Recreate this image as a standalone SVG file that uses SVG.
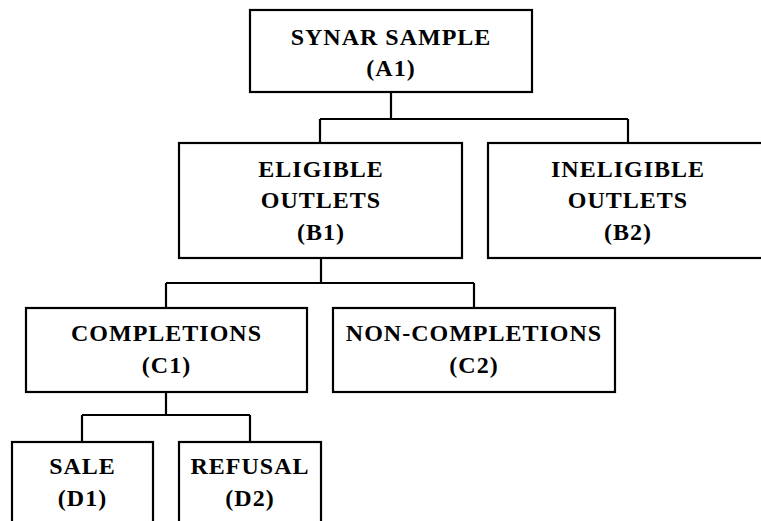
<svg xmlns="http://www.w3.org/2000/svg" width="761" height="521" viewBox="0 0 761 521">
<style>
  .box { fill: #fff; stroke: #000; stroke-width: 2.2; }
  .lbl { font-family: "Liberation Serif", "Times New Roman", serif; font-weight: bold; font-size: 24px; letter-spacing: 1px; fill: #000; text-anchor: middle; }
  .conn { fill: none; stroke: #000; stroke-width: 2.2; }
</style>
<rect x="0" y="0" width="761" height="521" fill="#fff"/>
<g id="connectors">
  <path class="conn" d="M391,92 V119 M320,119 H628 M320,119 V143 M628,119 V143"/>
  <path class="conn" d="M321,258 V283 M166,283 H474 M166,283 V308 M474,283 V308"/>
  <path class="conn" d="M166,392 V415 M82,415 H250 M82,415 V442 M250,415 V442"/>
</g>
<g id="A1">
  <rect class="box" x="250" y="10" width="282" height="82"/>
  <text class="lbl" x="391" y="45">SYNAR SAMPLE</text>
  <text class="lbl" x="391" y="76">(A1)</text>
</g>
<g id="B1">
  <rect class="box" x="179" y="143" width="283" height="115"/>
  <text class="lbl" x="321" y="177">ELIGIBLE</text>
  <text class="lbl" x="321" y="208">OUTLETS</text>
  <text class="lbl" x="321" y="240">(B1)</text>
</g>
<g id="B2">
  <rect class="box" x="488" y="143" width="278" height="115"/>
  <text class="lbl" x="628" y="177">INELIGIBLE</text>
  <text class="lbl" x="628" y="208">OUTLETS</text>
  <text class="lbl" x="628" y="240">(B2)</text>
</g>
<g id="C1">
  <rect class="box" x="26" y="308" width="281" height="84"/>
  <text class="lbl" x="166.5" y="341">COMPLETIONS</text>
  <text class="lbl" x="166.5" y="373">(C1)</text>
</g>
<g id="C2">
  <rect class="box" x="333" y="308" width="282" height="84"/>
  <text class="lbl" x="474" y="341">NON-COMPLETIONS</text>
  <text class="lbl" x="474" y="373">(C2)</text>
</g>
<g id="D1">
  <rect class="box" x="12" y="442" width="141" height="120"/>
  <text class="lbl" x="82.5" y="474">SALE</text>
  <text class="lbl" x="82.5" y="506">(D1)</text>
</g>
<g id="D2">
  <rect class="box" x="179" y="442" width="142" height="120"/>
  <text class="lbl" x="250" y="474">REFUSAL</text>
  <text class="lbl" x="250" y="506">(D2)</text>
</g>
</svg>
